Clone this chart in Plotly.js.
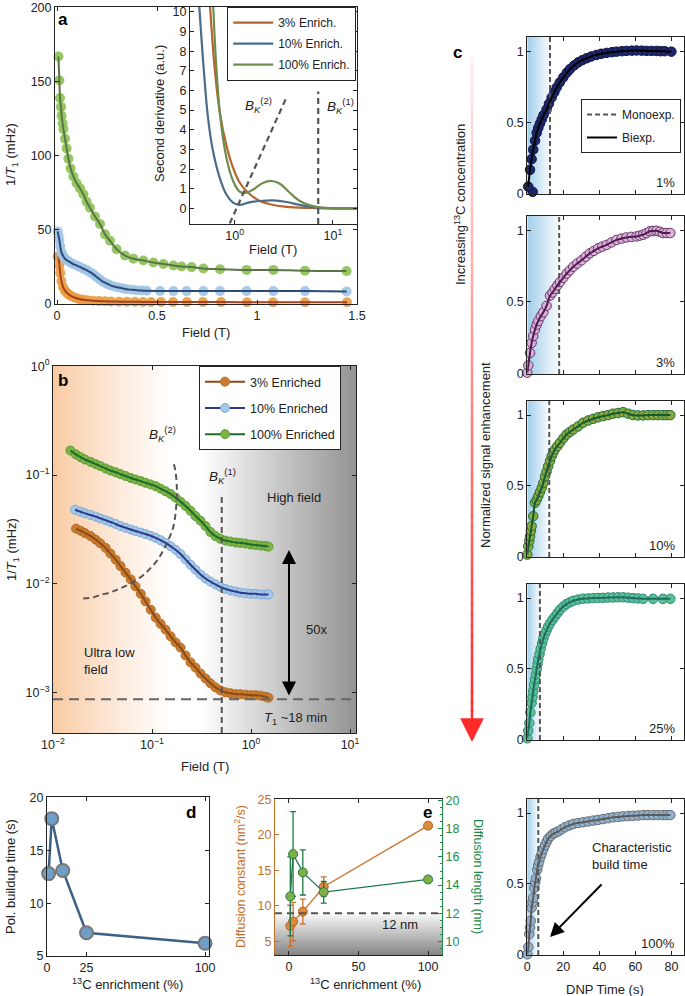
<!DOCTYPE html>
<html>
<head>
<meta charset="utf-8">
<script src="https://cdn.plot.ly/plotly-3.0.1.min.js"></script>
<style>body{margin:0;background:#fff}#chart{width:685px;height:996px}</style>
</head>
<body>
<div id="chart"></div>
<script>
// ---------- panel a : 1/T1 vs field (linear) ----------
const aFieldG = [0.007,0.012,0.015,0.02,0.023,0.028,0.032,0.04,0.048,0.057,0.068,0.082,0.098,0.115,0.132,0.148,0.165,0.19,0.215,0.24,0.265,0.298,0.34,0.382,0.432,0.482,0.532,0.582,0.623,0.673,0.732,0.815,0.948,1.082,1.24,1.448];
const aRateG  = [167,151,139,133,127,122,118,111.5,105,98,91.5,86,81.5,78,74,69,65,59,54,47,42.7,37,32.7,30.5,29.3,28,27,26,25.3,24.9,24,23.5,23,23,22.5,22.3];
const aFieldB = [0.003,0.008,0.012,0.016,0.022,0.03,0.04,0.052,0.065,0.08,0.098,0.115,0.132,0.15,0.165,0.182,0.198,0.215,0.232,0.25,0.265,0.285,0.307,0.33,0.348,0.375,0.398,0.425,0.448,0.515,0.582,0.648,0.732,0.815,0.948,1.082,1.24,1.448];
const aRateB  = [49,46,43,39,35,32.5,30.5,29.3,28.2,27,26,25,23.8,22.7,21.5,20,18.2,16.5,14.9,13.7,12.7,11.8,11.1,10.5,10,9.6,9.3,9.1,8.9,8.8,8.7,8.7,8.7,8.7,8.7,8.7,8.7,8.5];
const aFieldO = [0.003,0.008,0.012,0.016,0.022,0.03,0.04,0.05,0.06,0.073,0.09,0.11,0.13,0.15,0.18,0.21,0.24,0.27,0.31,0.35,0.39,0.43,0.47,0.52,0.58,0.65,0.73,0.82,0.95,1.08,1.24,1.45];
const aRateO  = [32,31,26,21,15.5,11.5,9,7.5,6.3,5.2,4.2,3.4,2.9,2.6,2.2,2.0,1.8,1.7,1.6,1.5,1.5,1.4,1.4,1.4,1.3,1.3,1.3,1.3,1.2,1.2,1.2,1.2];

// ---------- inset : second derivative ----------
const iFieldO = [0.556,0.625,0.703,0.822,0.961,1.125,1.37,1.80,2.46,3.37,5.39,10.1,17.5];
const iDerivO = [10.5,7.1,4.9,3.2,2.06,1.3,0.79,0.37,0.17,0.07,0.02,0,0];
const iFieldB = [0.432,0.483,0.534,0.601,0.703,0.822,0.961,1.125,1.37,1.80,2.46,3.37,4.6,6.8,10.1,17.5];
const iDerivB = [10.5,7.1,4.6,2.9,1.55,0.7,0.29,0.17,0.29,0.37,0.4,0.32,0.17,0.03,0,0];
const iFieldG = [0.601,0.65,0.714,0.822,0.961,1.125,1.315,1.54,1.95,2.37,2.88,3.64,4.6,5.82,7.37,10.1,17.5];
const iDerivG = [10.5,7.1,4.6,2.57,1.39,0.84,0.79,0.96,1.3,1.39,1.25,0.79,0.37,0.15,0.05,0,0];
const iBk2Field = [0.889, 3.42];
const iBk2Deriv = [-0.77, 5.73];
const iBk1Field = 7.08;
const inNames = ['3% Enrich.', '10% Enrich.', '100% Enrich.'];

// ---------- panel b : 1/T1 vs field (log-log) ----------
const bFieldG = [0.015,0.017,0.019,0.021,0.024,0.027,0.030,0.034,0.038,0.043,0.048,0.054,0.061,0.068,0.077,0.086,0.097,0.109,0.122,0.137,0.154,0.173,0.194,0.218,0.245,0.275,0.309,0.347,0.389,0.437,0.49,0.55,0.62,0.70,0.78,0.88,0.99,1.11,1.25,1.40,1.50];
const bRateG  = [0.168,0.155,0.146,0.139,0.132,0.126,0.121,0.115,0.110,0.106,0.102,0.098,0.094,0.091,0.088,0.085,0.082,0.079,0.075,0.071,0.067,0.062,0.057,0.052,0.047,0.042,0.038,0.034,0.030,0.0275,0.026,0.025,0.0245,0.024,0.0238,0.0235,0.023,0.0228,0.0225,0.0223,0.022];
const bFieldB = [0.0167,0.019,0.021,0.024,0.027,0.030,0.034,0.038,0.043,0.048,0.054,0.061,0.068,0.077,0.086,0.097,0.109,0.122,0.137,0.154,0.173,0.194,0.218,0.245,0.275,0.309,0.347,0.389,0.437,0.49,0.55,0.62,0.70,0.78,0.88,0.99,1.11,1.25,1.40,1.50];
const bRateB  = [0.048,0.046,0.0445,0.043,0.0415,0.040,0.0385,0.037,0.0355,0.034,0.0328,0.0316,0.0306,0.0296,0.0287,0.0277,0.0265,0.0252,0.0238,0.0222,0.0206,0.0188,0.0168,0.0150,0.0135,0.0122,0.0112,0.0105,0.0099,0.0094,0.0090,0.0087,0.0085,0.0083,0.0082,0.0081,0.0081,0.0080,0.0080,0.0080];
const bFieldO = [0.0171,0.019,0.021,0.024,0.027,0.030,0.034,0.038,0.043,0.048,0.054,0.061,0.068,0.077,0.086,0.097,0.109,0.122,0.137,0.154,0.173,0.194,0.218,0.245,0.275,0.309,0.347,0.389,0.437,0.49,0.55,0.62,0.70,0.78,0.88,0.99,1.11,1.25,1.40,1.50];
const bRateO  = [0.0322,0.0308,0.0293,0.0275,0.0255,0.0236,0.0214,0.0190,0.0167,0.0146,0.0127,0.0110,0.0095,0.0081,0.0069,0.0058,0.0049,0.0043,0.0038,0.0033,0.0029,0.0026,0.0022,0.0019,0.0017,0.0015,0.00135,0.00122,0.00112,0.00105,0.00101,0.00099,0.00097,0.00097,0.00096,0.00095,0.00095,0.00094,0.00092,0.00090];
const bBk2Field = [0.0202,0.0255,0.0298,0.037,0.044,0.053,0.0647,0.0803,0.0955,0.113,0.130,0.148,0.164,0.175,0.178,0.172,0.162];
const bBk2Rate  = [0.00734,0.0075,0.0079,0.0083,0.0088,0.0095,0.0104,0.0119,0.0138,0.0165,0.0204,0.026,0.0333,0.05,0.0776,0.11,0.136];
const bBk1Field = 0.506;
const bBk1Top = 0.063;
const bFloorRate = 0.00087;
const bNames = ['3% Enriched', '10% Enriched', '100% Enriched'];
const logTicks = [0.001, 0.01, 0.1, 1, 10];
const logText = ['10<sup>\u22123</sup>', '10<sup>\u22122</sup>', '10<sup>\u22121</sup>', '10<sup>0</sup>', '10<sup>1</sup>'];

// ---------- panel c : buildup curves ----------
const c1t = [0.5,1.5,2.4,3.3,4.3,5.2,6.1,7.0,8.0,9.0,10.7,12.0,13.5,15.0,16.3,18.0,20.0,22.0,23.7,26.0,28.3,30.5,32.9,35.5,38.4,41.0,44.0,47.0,49.5,52.5,55.0,58.0,60.6,63.5,66.2,69.0,71.7,74.0,76.3,80.0];
const c1v = [0.047,0.165,0.24,0.307,0.37,0.425,0.46,0.49,0.52,0.55,0.59,0.63,0.674,0.71,0.745,0.78,0.816,0.85,0.874,0.9,0.922,0.937,0.95,0.963,0.974,0.982,0.988,0.993,0.997,1.0,1.002,1.004,1.005,1.004,1.002,1.002,1.002,1.0,1.0,0.997];
const c2t = [0,0.55,1.5,2.4,3.3,4.3,5.2,6.1,7.5,8.9,10.7,12.6,14.0,15.3,16.7,18.1,20.0,21.8,23.6,25.5,27.8,30.1,32.4,34.7,37.0,39.3,41.6,44.0,46.7,49.5,52.3,55.0,57.8,60.6,62.4,64.3,66.1,68.0,69.8,71.7,73.5,75.3,77.4,79.4];
const c2v = [0.004,0.055,0.142,0.213,0.26,0.307,0.34,0.366,0.40,0.426,0.472,0.543,0.565,0.59,0.615,0.638,0.668,0.697,0.72,0.745,0.768,0.79,0.815,0.839,0.856,0.874,0.886,0.898,0.915,0.933,0.942,0.95,0.954,0.957,0.963,0.969,0.98,0.993,0.995,0.997,0.99,0.981,0.981,0.981];
const c3t = [0,0.55,1.1,1.5,2.0,2.4,3.3,4.3,5.2,6.1,7.0,8.0,8.9,9.8,10.7,11.6,12.6,13.5,14.4,15.3,16.7,18.1,20.0,21.8,23.6,25.5,28.2,31.0,33.8,36.6,39.3,42.1,44.9,47.6,50.4,53.2,56.0,58.7,61.5,64.3,67.0,69.8,72.5,75.3,77.4,79.4];
const c3v = [0.012,0.071,0.11,0.142,0.18,0.213,0.284,0.379,0.40,0.426,0.455,0.485,0.52,0.567,0.60,0.638,0.675,0.709,0.735,0.757,0.78,0.804,0.835,0.863,0.88,0.898,0.92,0.946,0.962,0.974,0.985,0.993,1.0,1.01,1.015,1.021,1.01,1.0,0.998,0.998,1.0,1.0,1.0,1.0,1.0,1.0];
const c4t = [0,0.5,1.1,1.7,2.4,2.9,3.3,3.8,4.3,4.8,5.2,5.7,6.1,6.8,7.4,8.2,8.9,9.8,10.7,11.6,12.6,13.9,15.3,16.7,18.1,20.0,21.8,23.6,25.5,28.2,31.0,33.8,36.6,39.3,42.1,44.9,47.6,50.4,53.2,56.0,58.7,61.5,64.3,69.8,75.3,79.4];
const c4v = [0.007,0.06,0.115,0.19,0.258,0.30,0.342,0.385,0.426,0.46,0.497,0.535,0.569,0.605,0.641,0.68,0.713,0.745,0.773,0.798,0.821,0.846,0.869,0.893,0.917,0.94,0.958,0.97,0.981,0.99,0.996,0.998,1.0,1.001,1.002,1.004,1.005,1.006,1.006,1.003,1.0,0.998,0.995,0.995,0.995,0.995];
const c5t = [0,0.55,1.1,1.5,1.9,2.4,2.9,3.3,3.9,4.4,4.8,5.5,6.0,6.6,7.3,8.0,8.9,9.8,10.7,11.6,13.0,14.4,15.8,17.2,19.0,20.9,23.2,25.5,28.2,31.0,33.8,36.6,39.3,42.1,44.9,47.6,50.4,53.2,56.0,58.7,61.5,64.3,67.0,69.8,72.5,75.3,77.4,79.4];
const c5v = [0,0.051,0.144,0.19,0.237,0.33,0.37,0.40,0.47,0.51,0.539,0.598,0.63,0.656,0.69,0.714,0.745,0.772,0.797,0.819,0.838,0.854,0.862,0.87,0.885,0.9,0.912,0.923,0.93,0.935,0.941,0.947,0.952,0.958,0.964,0.97,0.973,0.977,0.979,0.981,0.983,0.986,0.986,0.986,0.986,0.986,0.986,0.986];
const c1Outlier = {t: 3.0, v: 0.01};
const tauMono = [12.6, 17.7, 12.2, 7.0, 6.1];
const cLabels = ['1%', '3%', '10%', '25%', '100%'];

// ---------- panel d : buildup time ----------
const dEnrich = [1, 3, 10, 25, 100];
const dTime = [12.8, 18.0, 13.1, 7.2, 6.2];
const dErr = [0.5, 0.5, 0.3, 0.2, 0.15];

// ---------- panel e : diffusion ----------
const eEnrich = [1, 3, 10, 25, 100];
const eDconst = [7.2, 7.8, 9.2, 12.7, 21.3];
const eDerr = [2.9, 2.7, 1.75, 1.4, 0.2];
const eLength = [13.2, 16.2, 14.9, 13.5, 14.4];
const eLerr = [2.8, 3.0, 1.6, 0.77, 0.1];
const eLimit = 12;

// ---------- helpers ----------
const W = 685, H = 996;
const INK = '#222';
const TICK = 12.5, TXT = 13;
const xd = (l, r) => [l / W, r / W];
const yd = (t, b) => [1 - b / H, 1 - t / H];
function axis(o) {
  return Object.assign({
    showline: true, linecolor: INK, linewidth: 1, mirror: 'ticks',
    ticks: 'inside', ticklen: 4, tickwidth: 1, tickcolor: INK, ticklabeloverflow: 'allow',
    showgrid: false, zeroline: false, tickfont: {size: TICK, color: INK}
  }, o);
}
function label(x, y, text, o) {
  return Object.assign({xref: 'paper', yref: 'paper', x: x / W, y: 1 - y / H, text: text,
    showarrow: false, xanchor: 'center', yanchor: 'middle', font: {size: TXT, color: INK}}, o || {});
}
function mix(a, b, t) {
  return 'rgb(' + a.map((v, i) => Math.round(v + (b[i] - v) * t)).join(',') + ')';
}
// a soft gradient made of overlapping strips (each one covers the seam of the previous one)
function gradient(list, xref, yref, x0, x1, y0, y1, c0, c1, n, horizontal, gamma) {
  for (let k = 0; k < n; k++) {
    const t = Math.pow(k / (n - 1), gamma || 1);
    const s = {type: 'rect', xref: xref, yref: yref, layer: 'below', line: {width: 0}, fillcolor: mix(c0, c1, t)};
    if (horizontal) {
      s.x0 = x0 + (x1 - x0) * k / n; s.x1 = Math.min(x1, x0 + (x1 - x0) * (k + 2) / n); s.y0 = y0; s.y1 = y1;
    } else {
      s.y0 = y0 + (y1 - y0) * k / n; s.y1 = Math.min(y1, y0 + (y1 - y0) * (k + 2) / n); s.x0 = x0; s.x1 = x1;
    }
    list.push(s);
  }
}

const traces = [];
const shapes = [];
const annotations = [];

// panel a
[[aFieldO, aRateO, '#e99b3f', '#a8401c'], [aFieldB, aRateB, '#9fc4e4', '#2e4a78'], [aFieldG, aRateG, '#8cc152', '#5b7447']].forEach(s => {
  traces.push({type: 'scatter', mode: 'markers', x: s[0], y: s[1], xaxis: 'x', yaxis: 'y', showlegend: false, cliponaxis: false,
    marker: {size: 10, color: s[2], opacity: 0.9}});
  traces.push({type: 'scatter', mode: 'lines', x: s[0], y: s[1], xaxis: 'x', yaxis: 'y', showlegend: false,
    line: {color: s[3], width: 2, shape: 'spline'}});
});

// inset
[[iFieldO, iDerivO, '#b5652b'], [iFieldB, iDerivB, '#4a6d8c'], [iFieldG, iDerivG, '#6e8c50']].forEach((s, i) => {
  traces.push({type: 'scatter', mode: 'lines', x: s[0], y: s[1], xaxis: 'x2', yaxis: 'y2', name: inNames[i],
    legend: 'legend', legendgroup: 'in' + i, line: {color: s[2], width: 2.2, shape: 'spline'}});
});
traces.push({type: 'scatter', mode: 'lines', x: iBk2Field, y: iBk2Deriv, xaxis: 'x2', yaxis: 'y2', showlegend: false,
  line: {color: '#555', width: 2.2, dash: '6px,4px'}});
traces.push({type: 'scatter', mode: 'lines', x: [iBk1Field, iBk1Field], y: [-0.8, 5.95], xaxis: 'x2', yaxis: 'y2', showlegend: false,
  line: {color: '#555', width: 2.2, dash: '6px,4px'}});

// panel b
[[bFieldO, bRateO, '#c97c30', '#b5691f', '#8c4a14'], [bFieldB, bRateB, '#a6c8e8', '#80a8d4', '#2b3a8c'], [bFieldG, bRateG, '#7db443', '#5a9a3a', '#1c6b2c']].forEach((s, i) => {
  traces.push({type: 'scatter', mode: 'lines+markers', x: s[0], y: s[1], xaxis: 'x3', yaxis: 'y3', name: bNames[i], legend: 'legend2',
    legendgroup: 'b' + i, cliponaxis: false, marker: {size: 9, color: s[2], line: {color: s[3], width: 1}}, line: {color: s[4], width: 2}});
  traces.push({type: 'scatter', mode: 'lines', x: s[0], y: s[1], xaxis: 'x3', yaxis: 'y3', showlegend: false,
    line: {color: s[4], width: 2, shape: 'spline'}});
});
traces.push({type: 'scatter', mode: 'lines', x: bBk2Field, y: bBk2Rate, xaxis: 'x3', yaxis: 'y3', showlegend: false,
  line: {color: '#555', width: 2, dash: '6px,4px', shape: 'spline'}});
traces.push({type: 'scatter', mode: 'lines', x: [bBk1Field, bBk1Field], y: [bBk1Top, 0.0004], xaxis: 'x3', yaxis: 'y3', showlegend: false,
  line: {color: '#555', width: 2, dash: '6px,4px'}});
traces.push({type: 'scatter', mode: 'lines', x: [0.01, 11.5], y: [bFloorRate, bFloorRate], xaxis: 'x3', yaxis: 'y3', showlegend: false,
  line: {color: '#666', width: 2, dash: '10px,6px'}});

// panel c
const cSeries = [[c1t, c1v], [c2t, c2v], [c3t, c3v], [c4t, c4v], [c5t, c5v]];
const cFill = ['#1e2768', '#dcaedc', '#8ba73e', '#5cc093', '#91b2cf'];
const cEdge = ['#0e1445', '#663766', '#1e6e3c', '#2d8a78', '#666b70'];
const cLine = ['#000000', '#4a1e4a', '#135a30', '#1d6b62', '#5a5a5a'];
const cTop = [37, 216, 401, 584, 799], cBot = [194, 374, 557, 740, 955];
cSeries.forEach((s, i) => {
  const xa = 'x' + (4 + i), ya = 'y' + (4 + i);
  let tt = s[0], vv = s[1];
  if (i === 0) { tt = [c1Outlier.t].concat(tt); vv = [c1Outlier.v].concat(vv); }
  gradient(shapes, xa, ya + ' domain', 0, tauMono[i], 0, 1, [163, 207, 234], [248, 251, 254], 24, true);
  traces.push({type: 'scatter', mode: 'markers', x: tt, y: vv, xaxis: xa, yaxis: ya, showlegend: false, cliponaxis: false,
    marker: {size: 9.5, color: cFill[i], line: {color: cEdge[i], width: 1}}});
  traces.push({type: 'scatter', mode: 'lines', x: [tauMono[i], tauMono[i]], y: [-0.005, 1.1], xaxis: xa, yaxis: ya,
    name: 'Monoexp.', legend: 'legend3', legendgroup: 'mono', showlegend: i === 0, line: {color: '#555', width: 2, dash: '5px,3px'}});
  traces.push({type: 'scatter', mode: 'lines', x: s[0], y: s[1], xaxis: xa, yaxis: ya,
    name: 'Biexp.', legend: 'legend3', legendgroup: 'bi', showlegend: i === 0, line: {color: cLine[i], width: 2, shape: 'spline'}});
  annotations.push(label(677, cBot[i] - 12, cLabels[i], {xanchor: 'right', font: {size: TXT, color: INK}}));
});

// panel d
traces.push({type: 'scatter', mode: 'lines+markers', x: dEnrich, y: dTime, xaxis: 'x9', yaxis: 'y9', showlegend: false, cliponaxis: false,
  line: {color: '#3e5f86', width: 2.5}, marker: {size: 13, color: '#6f9fc8', line: {color: '#777', width: 2}},
  error_y: {type: 'data', array: dErr, color: '#1f3f66', thickness: 1.5, width: 3}});

// panel e
traces.push({type: 'scatter', mode: 'lines', x: [-10, 110], y: [eLimit, eLimit], xaxis: 'x10', yaxis: 'y11', showlegend: false,
  line: {color: '#555', width: 2, dash: '7px,5px'}});
traces.push({type: 'scatter', mode: 'lines+markers', x: eEnrich, y: eDconst, xaxis: 'x10', yaxis: 'y10', showlegend: false, cliponaxis: false,
  line: {color: '#c8722c', width: 1.3}, marker: {size: 9, color: '#d98a3a', line: {color: '#b5601f', width: 1}},
  error_y: {type: 'data', array: eDerr, color: '#c8722c', thickness: 1.3, width: 3}});
traces.push({type: 'scatter', mode: 'lines+markers', x: eEnrich, y: eLength, xaxis: 'x10', yaxis: 'y11', showlegend: false, cliponaxis: false,
  line: {color: '#1f7a48', width: 1.3}, marker: {size: 9, color: '#7fae45', line: {color: '#1f7a48', width: 1}},
  error_y: {type: 'data', array: eLerr, color: '#1f7a48', thickness: 1.3, width: 3}});

// background gradients in panel b and the grey band in panel e
gradient(shapes, 'x3 domain', 'y3 domain', 0, 0.39, 0, 1, [249, 202, 162], [255, 255, 255], 40, true, 0.85);
gradient(shapes, 'x3 domain', 'y3 domain', 0.48, 1, 0, 1, [255, 255, 255], [148, 148, 148], 50, true);
gradient(shapes, 'x10 domain', 'y11', 0, 1, 9.05, eLimit, [135, 135, 135], [248, 248, 248], 24, false);

// red "increasing concentration" arrow
for (let k = 0; k < 60; k++) {
  const y0 = 56 + (712 - 56) * k / 60, y1 = 56 + (712 - 56) * (k + 1.2) / 60;
  shapes.push({type: 'line', xref: 'paper', yref: 'paper', x0: 472 / W, x1: 472 / W, y0: 1 - y0 / H, y1: 1 - Math.min(y1, 712) / H,
    line: {width: 2.5, color: mix([255, 238, 238], [255, 40, 40], (k + 0.5) / 60)}});
}
annotations.push(Object.assign(label(472, 742, ''), {showarrow: true, arrowhead: 2, arrowsize: 1.9, arrowwidth: 2.5,
  arrowcolor: '#ff2a2a', ax: 0, ay: -34}));

// text
const BK2 = '<i>B</i><sub><i>K</i></sub><sup>(2)</sup>';
const BK1 = '<i>B</i><sub><i>K</i></sub><sup>(1)</sup>';
const bold = {size: 17, color: '#000', family: 'Liberation Sans, Arial, sans-serif'};
annotations.push(
  label(63, 19, '<b>a</b>', {font: bold}),
  label(63, 380, '<b>b</b>', {font: bold}),
  label(457, 53, '<b>c</b>', {font: bold}),
  label(191, 812, '<b>d</b>', {font: bold}),
  label(427, 812, '<b>e</b>', {font: bold}),
  label(12, 155, '1/<i>T</i><sub>1</sub> (mHz)', {textangle: -90}),
  label(206, 333, 'Field (T)'),
  label(160, 114, 'Second derivative (a.u.)', {textangle: -90}),
  label(273, 249, 'Field (T)'),
  label(258, 105, BK2, {font: {size: 13.5, color: INK}}),
  label(340, 106, BK1, {font: {size: 13.5, color: INK}}),
  label(12, 550, '1/<i>T</i><sub>1</sub> (mHz)', {textangle: -90}),
  label(205, 766, 'Field (T)'),
  label(162, 434, BK2, {font: {size: 13.5, color: INK}}),
  label(222, 476, BK1, {font: {size: 13.5, color: INK}}),
  label(294, 497, 'High field'),
  label(316, 629, '50x'),
  label(82, 661, 'Ultra low<br>field', {xanchor: 'left', align: 'left'}),
  label(295, 718, '<i>T</i><sub>1</sub> ~18 min'),
  label(460, 204, 'Increasing<sup>13</sup>C concentration', {textangle: -90}),
  label(485, 455, 'Normalized signal enhancement', {textangle: -90}),
  label(605, 989, 'DNP Time (s)'),
  label(590, 856, 'Characteristic<br>build time', {xanchor: 'left', align: 'left'}),
  label(10, 877, 'Pol. buildup time (s)', {textangle: -90}),
  label(128, 984, '<sup>13</sup>C enrichment (%)'),
  label(365, 984, '<sup>13</sup>C enrichment (%)'),
  label(240, 877, 'Diffusion constant (nm<sup>2</sup>/s)', {textangle: -90, font: {size: 12.5, color: '#c0702a'}}),
  label(478, 877, 'Diffusion length (nm)', {textangle: 90, font: {size: 12.5, color: '#1e8a4a'}}),
  label(400, 924, '12 nm')
);
annotations.push(Object.assign(label(289, 550, ''), {showarrow: true, arrowhead: 2, startarrowhead: 2, arrowside: 'end+start',
  arrowsize: 1.4, startarrowsize: 1.4, arrowwidth: 2, arrowcolor: '#000', ax: 0, ay: 147}));
annotations.push(Object.assign(label(550, 937, ''), {showarrow: true, arrowhead: 2, arrowsize: 1.4, arrowwidth: 2,
  arrowcolor: '#000', ax: 53, ay: -54}));

const layout = {
  width: W, height: H, margin: {l: 0, r: 0, t: 0, b: 0},
  paper_bgcolor: '#fff', plot_bgcolor: '#fff',
  font: {family: 'Liberation Sans, Arial, Helvetica, sans-serif', size: TXT, color: INK},
  xaxis: axis({domain: xd(55, 357), range: [-0.01, 1.5], tickvals: [0, 0.5, 1, 1.5], anchor: 'y'}),
  yaxis: axis({domain: yd(7, 304), range: [0, 200.4], tickvals: [0, 50, 100, 150, 200], anchor: 'x'}),
  xaxis2: axis({domain: xd(190, 357), type: 'log', range: [Math.log10(0.35), 1.245], tickvals: [1, 10],
    ticktext: ['10<sup>0</sup>', '10<sup>1</sup>'], anchor: 'y2'}),
  yaxis2: axis({domain: yd(7, 224), range: [-0.8, 10.25], dtick: 1, anchor: 'x2'}),
  xaxis3: axis({domain: xd(53, 356), type: 'log', range: [-2, 1.06], tickvals: logTicks.slice(1), ticktext: logText.slice(1), anchor: 'y3'}),
  yaxis3: axis({domain: yd(366, 733), type: 'log', range: [-3.37, 0.002], tickvals: logTicks.slice(0, 4), ticktext: logText.slice(0, 4), anchor: 'x3'}),
  xaxis9: axis({domain: xd(47, 209), range: [0, 102.5], tickvals: [0, 25, 100], anchor: 'y9'}),
  yaxis9: axis({domain: yd(797, 956), range: [5, 20.05], tickvals: [5, 10, 15, 20], anchor: 'x9'}),
  xaxis10: axis({domain: xd(275, 442), range: [-10, 110], tickvals: [0, 50, 100], anchor: 'y10', mirror: 'ticks'}),
  yaxis10: axis({domain: yd(799, 955), range: [3.1, 25.05], tickvals: [5, 10, 15, 20, 25], anchor: 'x10', mirror: false,
    linecolor: '#c0702a', tickcolor: '#c0702a', tickfont: {size: TICK, color: '#c0702a'}}),
  yaxis11: axis({domain: yd(799, 955), range: [9.05, 20.1], tickvals: [10, 12, 14, 16, 18, 20], anchor: 'x10', overlaying: 'y10',
    side: 'right', mirror: false, linecolor: '#1e8a4a', tickcolor: '#1e8a4a', tickfont: {size: TICK, color: '#1e8a4a'},
    minor: {ticks: 'inside', dtick: 0.5, ticklen: 2, tickcolor: '#1e8a4a'}}),
  legend: {x: 227 / W, y: 1 - 7 / H, xanchor: 'left', yanchor: 'top', bgcolor: '#fff', bordercolor: INK, borderwidth: 1.2,
    font: {size: 12, color: INK}, itemwidth: 40, tracegroupgap: 2},
  legend2: {x: 199 / W, y: 1 - 366 / H, xanchor: 'left', yanchor: 'top', bgcolor: '#fff', bordercolor: INK, borderwidth: 1,
    font: {size: 12.5, color: INK}, itemwidth: 40, tracegroupgap: 7},
  legend3: {x: 581 / W, y: 1 - 99 / H, xanchor: 'left', yanchor: 'top', bgcolor: '#fff', bordercolor: INK, borderwidth: 1,
    font: {size: 12, color: INK}, itemwidth: 30, tracegroupgap: 4},
  shapes: shapes,
  annotations: annotations
};
for (let i = 0; i < 5; i++) {
  layout['xaxis' + (4 + i)] = axis({domain: xd(527.3, 684), range: [0, 87], tickvals: [0, 20, 40, 60, 80],
    showticklabels: i === 4, anchor: 'y' + (4 + i)});
  layout['yaxis' + (4 + i)] = axis({domain: yd(cTop[i], cBot[i]), range: [-0.005, 1.1], tickvals: [0, 0.5, 1],
    anchor: 'x' + (4 + i)});
}

Plotly.newPlot('chart', traces, layout, {staticPlot: true});
</script>
</body>
</html>
